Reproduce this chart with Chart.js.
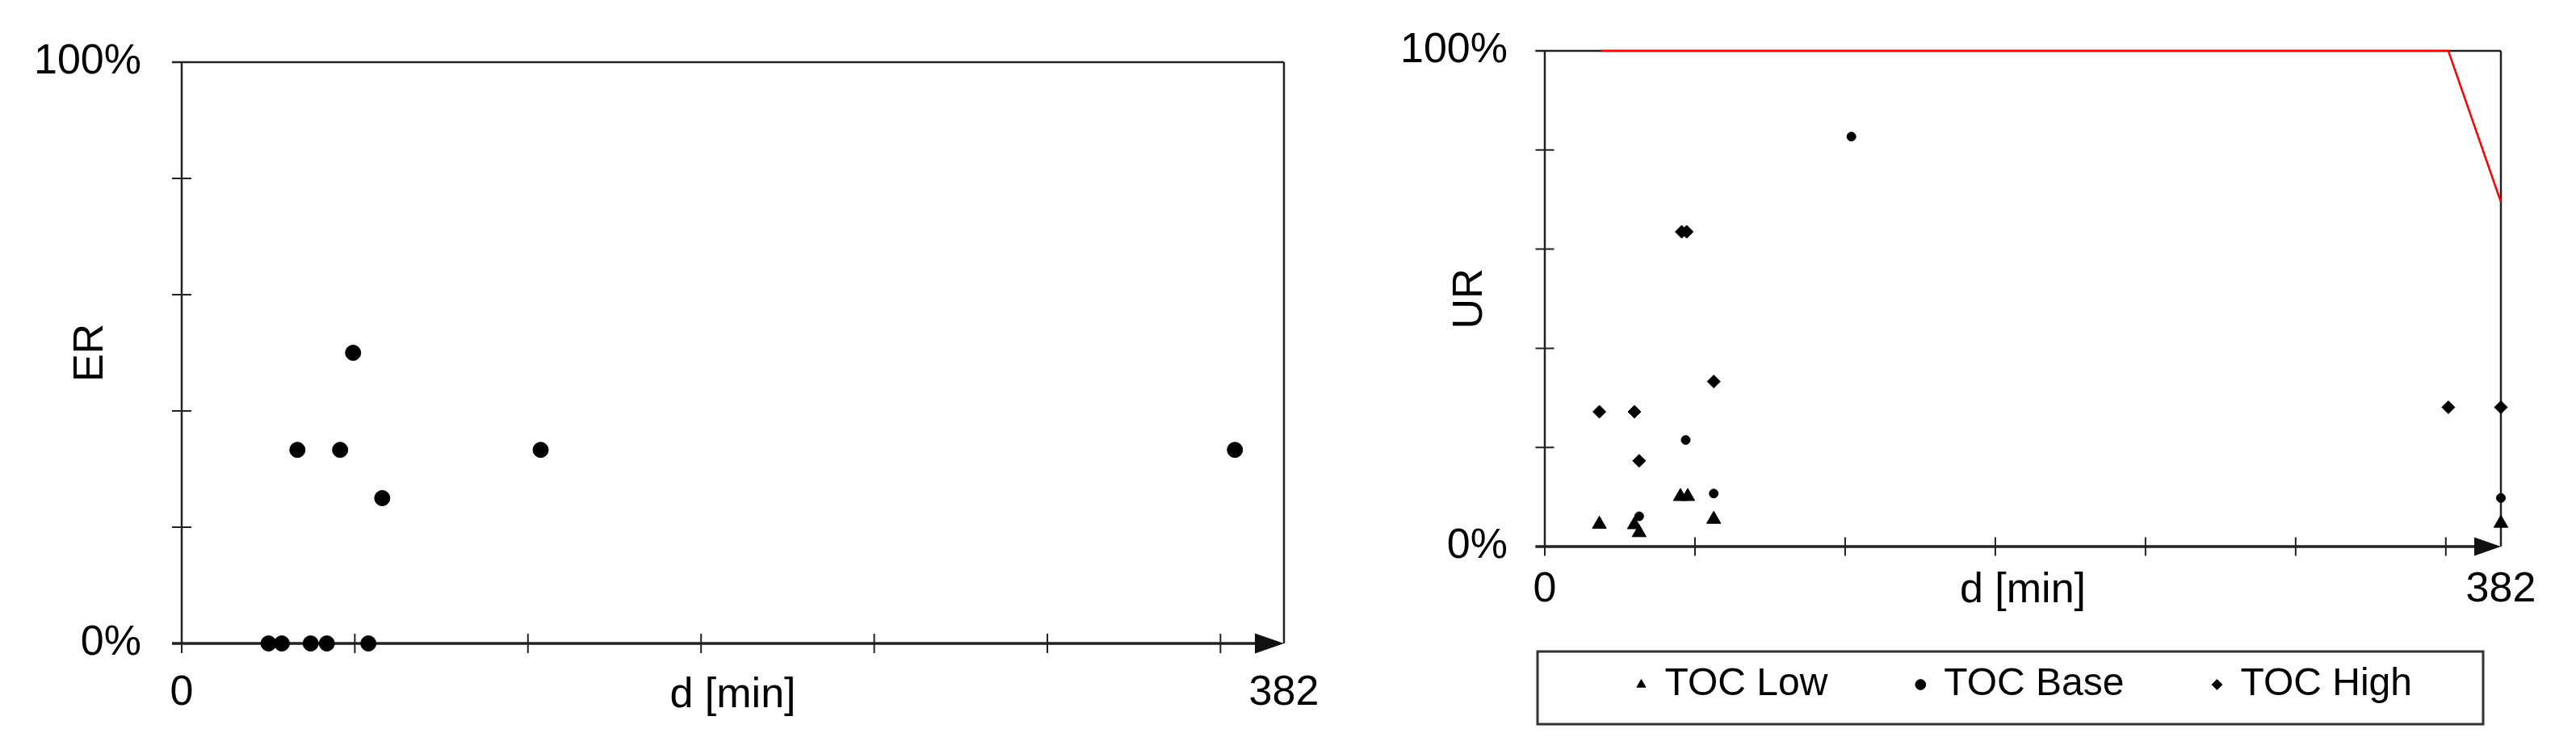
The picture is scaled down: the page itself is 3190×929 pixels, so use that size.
<!DOCTYPE html>
<html><head><meta charset="utf-8">
<script src="https://cdn.jsdelivr.net/npm/chart.js@4/dist/chart.umd.min.js"></script>
<style>
html,body{margin:0;padding:0;background:#fff;width:3190px;height:929px;overflow:hidden}
#c1{position:absolute;left:0;top:0}
#c2{position:absolute;left:1700px;top:0}
</style></head><body>
<canvas id="c1" width="1700" height="929"></canvas>
<canvas id="c2" width="1490" height="929"></canvas>
<script>
// ---- axes ----
const xTickMarks = [0, 60, 120, 180, 240, 300, 360];
const xAxisMax = 382;
const xLabelledValues = [0, 382];
const xTickLabels = ['0', '382'];
const yTickMarks = [0, 20, 40, 60, 80, 100];
const yLabelledValues = [0, 100];
const yTickLabels = ['0%', '100%'];

// ---- left chart: ER ----
const erMinutes = [30.1, 34.7, 44.7, 50.3, 64.7, 40.1, 54.9, 124.4, 365, 69.5, 59.4];
const erPercent = [0, 0, 0, 0, 0, 33.3, 33.3, 33.3, 33.3, 25, 50];

// ---- right chart: UR ----
const seriesNames = ['TOC Low', 'TOC Base', 'TOC High'];
const tocLowMinutes = [21.8, 35.8, 37.7, 54.2, 57.1, 67.5, 382];
const tocLowUR = [4.5, 4.4, 2.8, 10.1, 10.1, 5.5, 4.7];
const tocBaseMinutes = [37.7, 56.3, 67.5, 122.5, 382];
const tocBaseUR = [6.1, 21.5, 10.7, 82.7, 9.8];
const tocHighMinutes = [21.8, 35.8, 37.7, 54.7, 56.7, 67.5, 361, 382];
const tocHighUR = [27.2, 27.2, 17.3, 63.5, 63.5, 33.3, 28.1, 28.1];
const limitMinutes = [22.5, 361, 382];
const limitUR = [100, 100, 69.5];

const pts = (xs, ys) => xs.map((v, i) => ({x: v, y: ys[i]}));

Chart.defaults.font.family = "'Liberation Sans', Arial, sans-serif";
Chart.defaults.color = '#000';

function framePlugin(tick, arrowLen, arrowHalf) {
  return {
    id: 'frame',
    beforeDatasetsDraw(chart) {
      const {ctx, chartArea: a, scales: {x, y}} = chart;
      ctx.save();
      ctx.strokeStyle = '#222';
      ctx.fillStyle = '#111';
      ctx.lineWidth = 2.5;
      ctx.beginPath();
      ctx.moveTo(a.left - tick, a.top); ctx.lineTo(a.right, a.top);
      ctx.moveTo(a.right, a.top); ctx.lineTo(a.right, a.bottom);
      ctx.moveTo(a.left, a.top); ctx.lineTo(a.left, a.bottom);
      ctx.stroke();
      ctx.lineWidth = 3.5;
      ctx.beginPath();
      ctx.moveTo(a.left - tick, a.bottom); ctx.lineTo(a.right - arrowLen + 2, a.bottom);
      ctx.stroke();
      ctx.lineWidth = 2;
      ctx.beginPath();
      yTickMarks.forEach(v => { const py = y.getPixelForValue(v); ctx.moveTo(a.left - tick, py); ctx.lineTo(a.left + tick, py); });
      xTickMarks.forEach(v => { const px = x.getPixelForValue(v); ctx.moveTo(px, a.bottom - tick); ctx.lineTo(px, a.bottom + tick); });
      ctx.stroke();
      ctx.beginPath();
      ctx.moveTo(a.right, a.bottom);
      ctx.lineTo(a.right - arrowLen, a.bottom - arrowHalf);
      ctx.lineTo(a.right - arrowLen, a.bottom + arrowHalf);
      ctx.closePath();
      ctx.fill();
      ctx.restore();
    }
  };
}

const legendBoxPlugin = {
  id: 'legendBox',
  afterDraw(chart) {
    const lg = chart.legend, a = chart.chartArea;
    const cy = lg.top + lg.options.labels.padding + lg.options.labels.font.size / 2;
    const ctx = chart.ctx;
    ctx.save();
    ctx.strokeStyle = '#333';
    ctx.lineWidth = 3;
    ctx.strokeRect(a.left - 9, cy - 41, (a.right - 22) - (a.left - 9), 90);
    ctx.restore();
  }
};

function makeScales(o) {
  return {
    x: {
      type: 'linear', min: 0, max: xAxisMax,
      grid: {display: false, drawTicks: false}, border: {display: false},
      afterBuildTicks: s => { s.ticks = xTickMarks.concat([xAxisMax]).map(v => ({value: v})); },
      ticks: {
        autoSkip: false, maxRotation: 0, minRotation: 0, mirror: o.xMirror, padding: o.xPad, color: '#000', font: {size: 52},
        callback: v => { const i = xLabelledValues.indexOf(v); return i >= 0 ? xTickLabels[i] : ''; }
      },
      title: {display: true, text: 'd [min]', color: '#000', font: {size: 52}, padding: {top: 0, bottom: o.xTitlePad}},
      afterFit: s => { s.height = o.xH; s.paddingLeft = 0; s.paddingRight = 0; s.paddingTop = 0; s.paddingBottom = 0; }
    },
    y: {
      type: 'linear', min: 0, max: 100,
      grid: {display: false, drawTicks: false}, border: {display: false},
      afterBuildTicks: s => { s.ticks = yTickMarks.map(v => ({value: v})); },
      ticks: {
        autoSkip: false, padding: o.yPad, color: '#000', font: {size: 52},
        callback: v => { const i = yLabelledValues.indexOf(v); return i >= 0 ? yTickLabels[i] : ''; }
      },
      title: {display: true, text: o.yTitle, color: '#000', font: {size: 52}, padding: {top: o.yTitlePad, bottom: 0}},
      afterFit: s => { s.width = o.yW; s.paddingTop = 0; s.paddingBottom = 0; }
    }
  };
}

new Chart(document.getElementById('c1'), {
  type: 'scatter',
  data: {
    datasets: [{
      label: 'ER',
      data: pts(erMinutes, erPercent),
      pointStyle: 'circle', pointRadius: 9.5, pointBorderWidth: 1,
      backgroundColor: '#000', borderColor: '#000', clip: false
    }]
  },
  options: {
    responsive: false, animation: false, devicePixelRatio: 1,
    layout: {padding: {top: 77, right: 110, bottom: 0, left: 0}},
    plugins: {legend: {display: false}, tooltip: {enabled: false}},
    scales: makeScales({xPad: 30, xMirror: false, xTitlePad: 36, xH: 132, yPad: 50, yW: 225, yTitle: 'ER', yTitlePad: 81})
  },
  plugins: [framePlugin(12, 36, 12.5)]
});

new Chart(document.getElementById('c2'), {
  type: 'scatter',
  data: {
    datasets: [
      {label: seriesNames[0], data: pts(tocLowMinutes, tocLowUR), pointStyle: 'triangle', pointRadius: 10, pointBorderWidth: 1,
       backgroundColor: '#000', borderColor: '#000', clip: false},
      {label: seriesNames[1], data: pts(tocBaseMinutes, tocBaseUR), pointStyle: 'circle', pointRadius: 5.5, pointBorderWidth: 1,
       backgroundColor: '#000', borderColor: '#000', clip: false},
      {label: seriesNames[2], data: pts(tocHighMinutes, tocHighUR), pointStyle: 'rectRot', pointRadius: 8, pointBorderWidth: 1,
       backgroundColor: '#000', borderColor: '#000', clip: false},
      {label: 'limit', data: pts(limitMinutes, limitUR), showLine: true, borderColor: '#ff0000', borderWidth: 2.5,
       pointRadius: 0, backgroundColor: '#ff0000', tension: 0, clip: false}
    ]
  },
  options: {
    responsive: false, animation: false, devicePixelRatio: 1,
    layout: {padding: {top: 63, right: 93, bottom: 47, left: 0}},
    plugins: {
      tooltip: {enabled: false},
      legend: {
        display: true, position: 'bottom', align: 'end',
        labels: {
          usePointStyle: true, boxWidth: 10, boxHeight: 9, padding: 110, color: '#000',
          font: {size: 48},
          filter: item => item.datasetIndex < 3
        }
      }
    },
    scales: makeScales({xPad: -85, xMirror: true, xTitlePad: -49, xH: 37, yPad: 46, yW: 213, yTitle: 'UR', yTitlePad: 89})
  },
  plugins: [framePlugin(11.5, 33, 11.5), legendBoxPlugin]
});
</script>
</body></html>
